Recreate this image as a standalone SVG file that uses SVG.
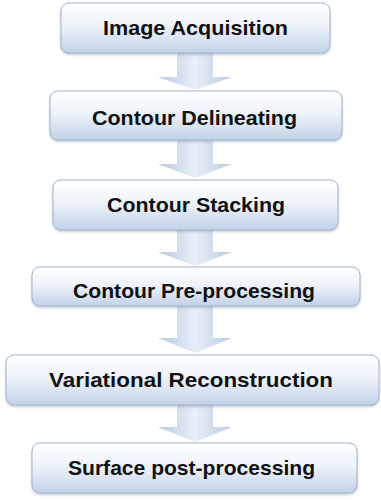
<svg xmlns="http://www.w3.org/2000/svg" width="381" height="500" viewBox="0 0 381 500">
<defs>
<linearGradient id="boxg" x1="0" y1="0" x2="0" y2="1">
<stop offset="0" stop-color="#ffffff"/>
<stop offset="0.45" stop-color="#eef3fa"/>
<stop offset="1" stop-color="#c3d2e8"/>
</linearGradient>
<linearGradient id="arrg" x1="0" y1="0" x2="1" y2="0">
<stop offset="0" stop-color="#b9cae2"/>
<stop offset="0.5" stop-color="#e8eff8"/>
<stop offset="1" stop-color="#b9cae2"/>
</linearGradient>
<filter id="sh" x="-5%" y="-10%" width="110%" height="130%">
<feDropShadow dx="0" dy="1.5" stdDeviation="1.2" flood-color="#8090a8" flood-opacity="0.45"/>
</filter>
</defs>
<style>
.box{fill:url(#boxg);stroke:#a3b3cb;stroke-width:1;filter:url(#sh)}
.arr{fill:url(#arrg);stroke:none}
.t{font-family:"Liberation Sans",Arial,sans-serif;font-weight:bold;font-size:21px;fill:#111;text-anchor:middle}
</style>
<rect width="381" height="500" fill="#ffffff"/>
<g id="connectors">
<path class="arr" d="M177,53 H213 V77 H232 L195,90 L158,77 H177 Z"/>
<path class="arr" d="M177,140 H213 V164 H232 L195,178 L158,164 H177 Z"/>
<path class="arr" d="M177,230 H213 V252 H232 L195,266 L158,252 H177 Z"/>
<path class="arr" d="M177,306 H213 V338 H232 L195,353 L158,338 H177 Z"/>
<path class="arr" d="M177,405 H213 V427 H232 L195,442 L158,427 H177 Z"/>
</g>
<g id="n1"><rect class="box" x="61" y="3" width="269" height="50" rx="8"/><text class="t" x="195.5" y="35" textLength="185" lengthAdjust="spacingAndGlyphs">Image Acquisition</text></g>
<g id="n2"><rect class="box" x="50" y="91" width="292" height="49" rx="8"/><text class="t" x="194.5" y="125" textLength="205" lengthAdjust="spacingAndGlyphs">Contour Delineating</text></g>
<g id="n3"><rect class="box" x="53" y="180" width="285" height="50" rx="8"/><text class="t" x="196" y="212" textLength="178" lengthAdjust="spacingAndGlyphs">Contour Stacking</text></g>
<g id="n4"><rect class="box" x="32" y="267" width="328" height="39" rx="8"/><text class="t" x="194" y="298" textLength="242" lengthAdjust="spacingAndGlyphs">Contour Pre-processing</text></g>
<g id="n5"><rect class="box" x="6" y="355" width="373" height="50" rx="8"/><text class="t" x="191" y="387" textLength="284" lengthAdjust="spacingAndGlyphs">Variational Reconstruction</text></g>
<g id="n6"><rect class="box" x="32" y="443" width="325" height="50" rx="8"/><text class="t" x="191.5" y="475" textLength="247" lengthAdjust="spacingAndGlyphs">Surface post-processing</text></g>
</svg>
